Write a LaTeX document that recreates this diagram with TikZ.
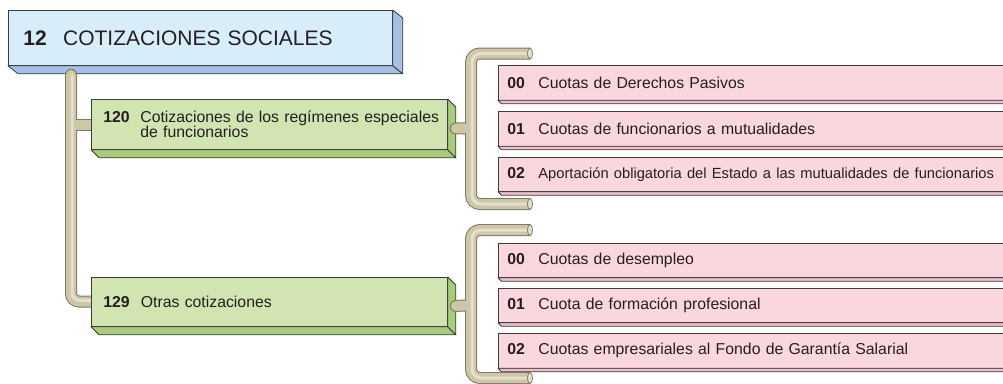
\documentclass[tikz,border=0pt]{standalone}
\usepackage{fontspec}
\setmainfont{Liberation Sans}
\usetikzlibrary{calc}
\definecolor{bluefront}{HTML}{D7EDF9}
\definecolor{blueside}{HTML}{A5C0E3}
\definecolor{greenfront}{HTML}{D2E4B2}
\definecolor{greenside}{HTML}{A9CC7C}
\definecolor{pinkfront}{HTML}{FAD7DE}
\definecolor{pinkside}{HTML}{EDBFC8}
\definecolor{edgecol}{HTML}{3C3C3C}
\definecolor{pipedark}{HTML}{7E795F}
\definecolor{pipemid}{HTML}{CDC7A9}
\definecolor{pipelight}{HTML}{E4E0CC}
\definecolor{txt}{HTML}{231F20}
\newcommand\extrude[4]{%
  \filldraw[draw=edgecol, line width=0.8pt, fill=#4, line join=round]
    (#1.south west) -- (#1.south east) -- ($(#1.south east)+(#2,#3)$) -- ($(#1.south west)+(#2,#3)$) -- cycle;
  \filldraw[draw=edgecol, line width=0.8pt, fill=#4, line join=round]
    (#1.north east) -- ($(#1.north east)+(#2,#3)$) -- ($(#1.south east)+(#2,#3)$) -- (#1.south east) -- cycle;
}
\tikzset{
  boxbase/.style={draw=edgecol, line width=0.8pt, anchor=north west, inner xsep=0pt, inner ysep=0pt, align=left, text=txt},
  bluebox/.style={boxbase, fill=bluefront, minimum width=384pt, text width=384pt, minimum height=55pt, font=\fontsize{21}{24}\selectfont},
  greenbox/.style={boxbase, fill=greenfront, minimum width=356pt, text width=356pt, minimum height=50pt, font=\fontsize{15.8}{15.7}\selectfont},
  pinkbox/.style={boxbase, fill=pinkfront, minimum width=530pt, text width=530pt, minimum height=34.5pt, font=\fontsize{15.8}{17}\selectfont},
  pipeout/.style={line width=12pt, draw=pipedark},
  pipein/.style={line width=10pt, draw=pipemid},
  pipehi/.style={line width=3pt, draw=pipelight},
  pipecap/.style={fill=pipelight, draw=pipedark, line width=0.8pt},
}
\begin{document}
\begin{tikzpicture}[x=1pt,y=-1pt]
\clip (0,0) rectangle (1003,383);
\fill[white] (0,0) rectangle (1003,383);

% top box
\node[bluebox] (n12) at (8,10) {\mbox{\hspace*{15pt}\makebox[39.7pt][l]{\textbf{12}}COTIZACIONES SOCIALES}};
\extrude{n12}{10}{8}{blueside}

\path (91,99) coordinate (g120pos) (91,277) coordinate (g129pos);
\coordinate (trunktop) at ($(n12.south west)+(63,9)$);

% trunk pipe
\draw[pipeout, line cap=round, rounded corners=8pt] (trunktop) -- (71,301.5) -- (91,301.5);
\draw[pipeout, line cap=round] (71,124.5) -- (91,124.5);
\draw[pipein, line cap=round, rounded corners=8pt] (trunktop) -- (71,301.5) -- (91,301.5);
\draw[pipein, line cap=round] (71,124.5) -- (91,124.5);
\draw[pipehi, line cap=round, rounded corners=8pt] ($(trunktop)+(1,0)$) -- (72,300.5) -- (91,300.5);

\node[greenbox] (g120) at (g120pos) {\mbox{\hspace*{12pt}\makebox[37pt][l]{\textbf{120}}Cotizaciones de los regímenes especiales}\\\mbox{\hspace*{49pt}de funcionarios}};
\extrude{g120}{8}{8}{greenside}
\node[greenbox, minimum height=49pt] (g129) at (g129pos) {\mbox{\hspace*{12pt}\makebox[37.5pt][l]{\textbf{129}}Otras cotizaciones}};
\extrude{g129}{8}{8}{greenside}

% pink boxes group 1
\node[pinkbox] (p100) at (498,65) {\mbox{\hspace*{9pt}\makebox[31pt][l]{\textbf{00}}Cuotas de Derechos Pasivos}};
\extrude{p100}{3.5}{3.5}{pinkside}
\node[pinkbox] (p101) at (498,111) {\mbox{\hspace*{9pt}\makebox[31pt][l]{\textbf{01}}Cuotas de funcionarios a mutualidades}};
\extrude{p101}{3.5}{3.5}{pinkside}
\node[pinkbox] (p102) at (498,156.5) {\mbox{\hspace*{9pt}\makebox[31pt][l]{\textbf{02}}{\fontsize{14.7}{17}\selectfont Aportación obligatoria del Estado a las mutualidades de funcionarios}}};
\extrude{p102}{3.5}{3.5}{pinkside}

% pink boxes group 2
\node[pinkbox] (p200) at (498,242.5) {\mbox{\hspace*{9pt}\makebox[31pt][l]{\textbf{00}}Cuotas de desempleo}};
\extrude{p200}{3.5}{3.5}{pinkside}
\node[pinkbox] (p201) at (498,287.5) {\mbox{\hspace*{9pt}\makebox[31pt][l]{\textbf{01}}Cuota de formación profesional}};
\extrude{p201}{3.5}{3.5}{pinkside}
\node[pinkbox] (p202) at (498,333) {\mbox{\hspace*{9pt}\makebox[31pt][l]{\textbf{02}}Cuotas empresariales al Fondo de Garantía Salarial}};
\extrude{p202}{3.5}{3.5}{pinkside}

% bracket 1
\coordinate (b1top) at (530,53.5);
\coordinate (b1bot) at (530,204);
\coordinate (s1) at ($(g120.east)+(8,4)$);
\draw[pipeout, rounded corners=9pt] (b1top) -- (471,53.5) -- (471,204) -- (b1bot);
\draw[pipeout, line cap=round] (s1) -- (465,128.5);
\draw[pipein, rounded corners=9pt] (b1top) -- (471,53.5) -- (471,204) -- (b1bot);
\draw[pipein, line cap=round] (s1) -- (465,128.5);
\draw[pipehi, rounded corners=9pt] (b1top) -- (472,53.5) -- (472,204) -- (b1bot);
\draw[pipecap] (b1top) ellipse [x radius=2.5pt, y radius=5.5pt];
\draw[pipecap] (b1bot) ellipse [x radius=2.5pt, y radius=5.5pt];

% bracket 2
\coordinate (b2top) at (530,230);
\coordinate (b2bot) at (530,378);
\coordinate (s2) at ($(g129.east)+(8,4)$);
\draw[pipeout, rounded corners=9pt] (b2top) -- (471,230) -- (471,378) -- (b2bot);
\draw[pipeout, line cap=round] (s2) -- (465,305.5);
\draw[pipein, rounded corners=9pt] (b2top) -- (471,230) -- (471,378) -- (b2bot);
\draw[pipein, line cap=round] (s2) -- (465,305.5);
\draw[pipehi, rounded corners=9pt] (b2top) -- (472,230) -- (472,378) -- (b2bot);
\draw[pipecap] (b2top) ellipse [x radius=2.5pt, y radius=5.5pt];
\draw[pipecap] (b2bot) ellipse [x radius=2.5pt, y radius=5.5pt];
\end{tikzpicture}
\end{document}
